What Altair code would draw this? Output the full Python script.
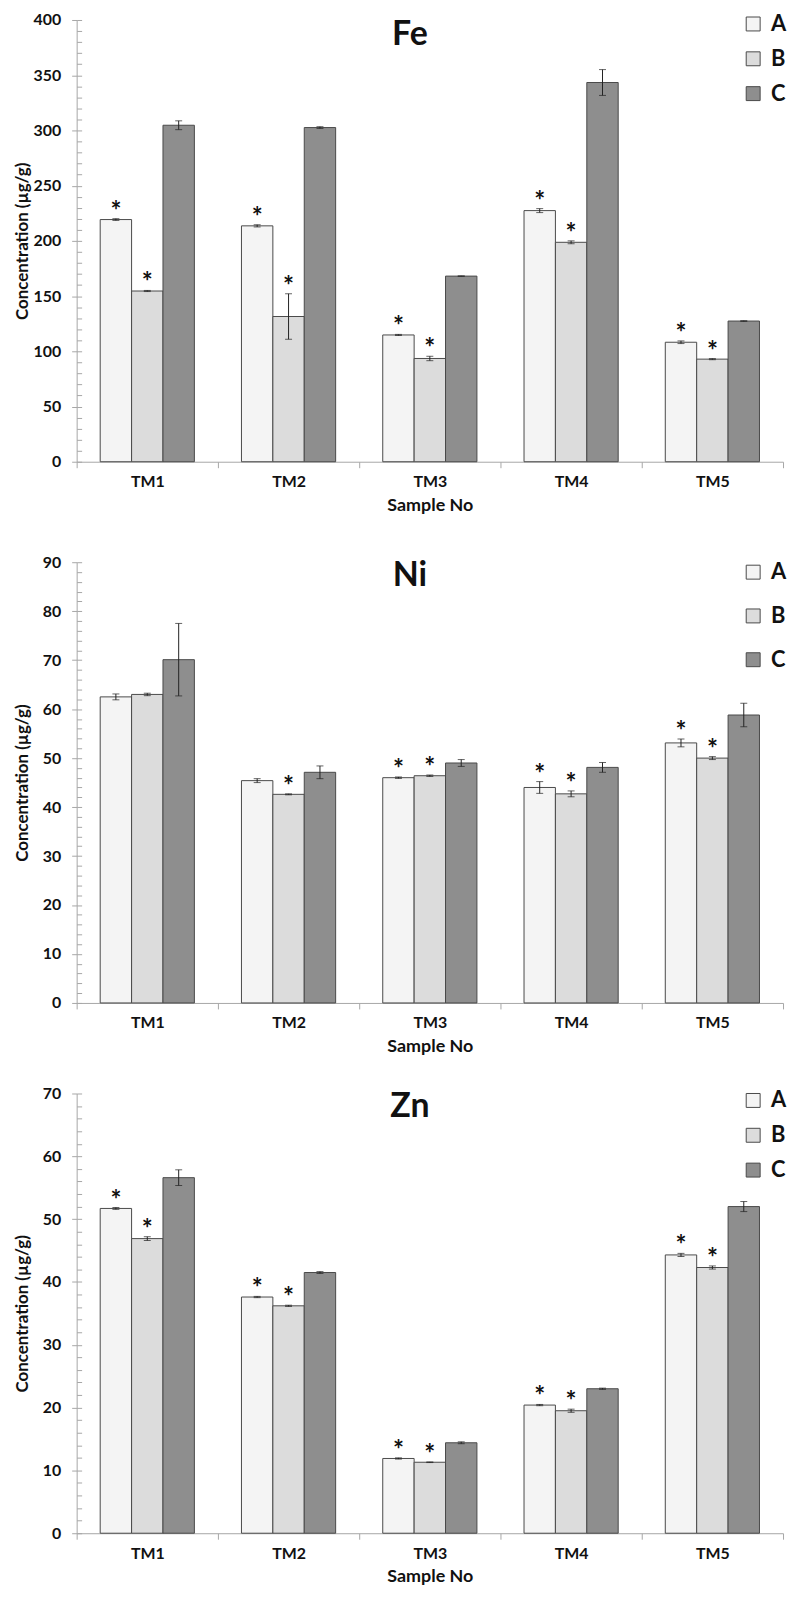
import altair as alt
import pandas as pd

samples = ["TM1", "TM2", "TM3", "TM4", "TM5"]
groups = ["A", "B", "C"]

# Fe
fe_A = [219.3, 213.6, 114.8, 227.4, 108.2]
fe_B = [154.6, 131.5, 93.5, 198.7, 92.9]
fe_C = [304.7, 302.6, 168.1, 343.4, 127.4]
fe_A_err = [0.8, 1.0, 0.5, 1.8, 1.2]
fe_B_err = [0.5, 20.6, 2.0, 1.3, 0.5]
fe_C_err = [4.0, 0.8, 0.2, 11.7, 0.3]
fe_star_A = [1, 1, 1, 1, 1]
fe_star_B = [1, 1, 1, 1, 1]

# Ni
ni_A = [62.5, 45.4, 46.0, 44.0, 53.1]
ni_B = [63.0, 42.6, 46.4, 42.7, 50.0]
ni_C = [70.1, 47.1, 49.0, 48.1, 58.8]
ni_A_err = [0.6, 0.4, 0.15, 1.2, 0.8]
ni_B_err = [0.25, 0.1, 0.15, 0.6, 0.3]
ni_C_err = [7.4, 1.3, 0.7, 1.0, 2.4]
ni_star_A = [0, 0, 1, 1, 1]
ni_star_B = [0, 1, 1, 1, 1]

# Zn
zn_A = [51.7, 37.6, 11.9, 20.4, 44.3]
zn_B = [46.9, 36.2, 11.3, 19.5, 42.3]
zn_C = [56.6, 41.5, 14.4, 23.0, 52.0]
zn_A_err = [0.15, 0.1, 0.1, 0.1, 0.25]
zn_B_err = [0.3, 0.1, 0.05, 0.25, 0.25]
zn_C_err = [1.25, 0.15, 0.15, 0.1, 0.8]
zn_star_A = [1, 1, 1, 1, 1]
zn_star_B = [1, 1, 1, 1, 1]

FILLS = ["#f4f4f4", "#dcdcdc", "#8e8e8e"]
EDGE = "#4a4a4a"
GRAY = "#a6a6a6"
FONT = "Lato"
W = 710


def panel(name, A, B, C, eA, eB, eC, sA, sB, ymax, major, minor, height, top_off,
          legend_y, row_pad, title_y):
    rows = []
    for i, s in enumerate(samples):
        for g, vals, errs, stars in (("A", A, eA, sA), ("B", B, eB, sB), ("C", C, eC, [0] * 5)):
            v = vals[i]
            e = errs[i]
            rows.append(dict(sample=s, group=g, value=v, lo=v - e, hi=v + e, star=stars[i]))
    df = pd.DataFrame(rows)
    base = alt.Chart(df)
    yscale = alt.Scale(domain=[0, ymax], nice=False, zero=True, range=[height, top_off])
    x = alt.X(
        "sample:N", sort=samples,
        scale=alt.Scale(paddingInner=0, paddingOuter=0),
        axis=alt.Axis(title="Sample No", tickBand="extent", labelAngle=0,
                      domainColor=GRAY, tickColor=GRAY, tickSize=6,
                      labelFontSize=16, labelFontWeight="bold", labelColor="#111",
                      labelPadding=6, titleFontSize=18, titleFontWeight="bold",
                      titleColor="#111", titlePadding=7, grid=False),
    )
    xo = alt.XOffset("group:N", sort=groups, scale=alt.Scale(paddingInner=0, paddingOuter=0.75))

    bars = base.mark_bar(stroke=EDGE, strokeWidth=1).encode(
        x=x, xOffset=xo,
        y=alt.Y("value:Q", scale=yscale,
                axis=alt.Axis(title="Concentration (µg/g)", orient="left",
                              values=list(range(0, ymax + 1, major)),
                              domainColor=GRAY, tickColor=GRAY, tickSize=5,
                              labelFontSize=16, labelFontWeight="bold", labelColor="#111",
                              labelPadding=11, titleFontSize=17, titleFontWeight="bold",
                              titleColor="#111", titleX=-54,
                              titleY=top_off + (height - top_off) / 2,
                              titleAngle=270, titleBaseline="middle", grid=False)),
        color=alt.Color("group:N", scale=alt.Scale(domain=groups, range=FILLS),
                        legend=alt.Legend(title=None, orient="none", legendX=669, legendY=legend_y,
                                          symbolType="square", symbolSize=196,
                                          symbolStrokeColor=EDGE, symbolStrokeWidth=1,
                                          labelFontSize=22, labelFontWeight="bold",
                                          labelColor="#111", labelFont=FONT,
                                          rowPadding=row_pad, padding=0, labelOffset=7)),
    )
    minor_ax = base.mark_point(opacity=0).encode(
        y=alt.Y("value:Q", scale=yscale,
                axis=alt.Axis(orient="right", offset=-W, title=None,
                              values=list(range(0, ymax + 1, minor)),
                              labels=False, domain=False, tickColor=GRAY, tickSize=5, grid=False)),
    )
    rules = base.mark_rule(color="#222", strokeWidth=1).encode(
        x=x, xOffset=xo,
        y=alt.Y("lo:Q", scale=yscale, axis=None), y2="hi:Q",
    )
    cap_hi = base.mark_tick(color="#222", thickness=1, size=7).encode(
        x=x, xOffset=xo, y=alt.Y("hi:Q", scale=yscale, axis=None),
    )
    cap_lo = base.mark_tick(color="#222", thickness=1, size=7).encode(
        x=x, xOffset=xo, y=alt.Y("lo:Q", scale=yscale, axis=None),
    )
    stars = base.transform_filter("datum.star == 1").mark_text(
        text="*", fontSize=26, fontWeight="bold", font=FONT, color="#111",
        baseline="alphabetic", dy=1,
    ).encode(x=x, xOffset=xo, y=alt.Y("hi:Q", scale=yscale, axis=None))
    title = alt.Chart(pd.DataFrame({"t": [name]})).mark_text(
        fontSize=34, fontWeight="bold", font=FONT, color="#111", align="center", baseline="middle",
    ).encode(text="t:N", x=alt.value(335), y=alt.value(title_y))

    return alt.layer(bars, minor_ax, rules, cap_hi, cap_lo, stars, title).resolve_axis(
        y="independent"
    ).properties(width=W, height=height)


fe = panel("Fe", fe_A, fe_B, fe_C, fe_A_err, fe_B_err, fe_C_err, fe_star_A, fe_star_B,
           400, 50, 10, 444, 0, -7, 13, 15)
ni = panel("Ni", ni_A, ni_B, ni_C, ni_A_err, ni_B_err, ni_C_err, ni_star_A, ni_star_B,
           90, 10, 2, 453, 10, 9, 22, 24)
zn = panel("Zn", zn_A, zn_B, zn_C, zn_A_err, zn_B_err, zn_C_err, zn_star_A, zn_star_B,
           70, 10, 2, 442, 0, -4, 13, 14)

chart = alt.vconcat(fe, ni, zn, spacing=91, bounds="flush").resolve_scale(
    color="independent"
).properties(
    padding={"left": 6, "top": 0, "right": 0, "bottom": 0}
).configure_view(stroke=None).configure_axis(labelFont=FONT, titleFont=FONT).configure_legend(
    labelFont=FONT
)

chart.save("out.html", embed_options={"renderer": "svg", "actions": False})
